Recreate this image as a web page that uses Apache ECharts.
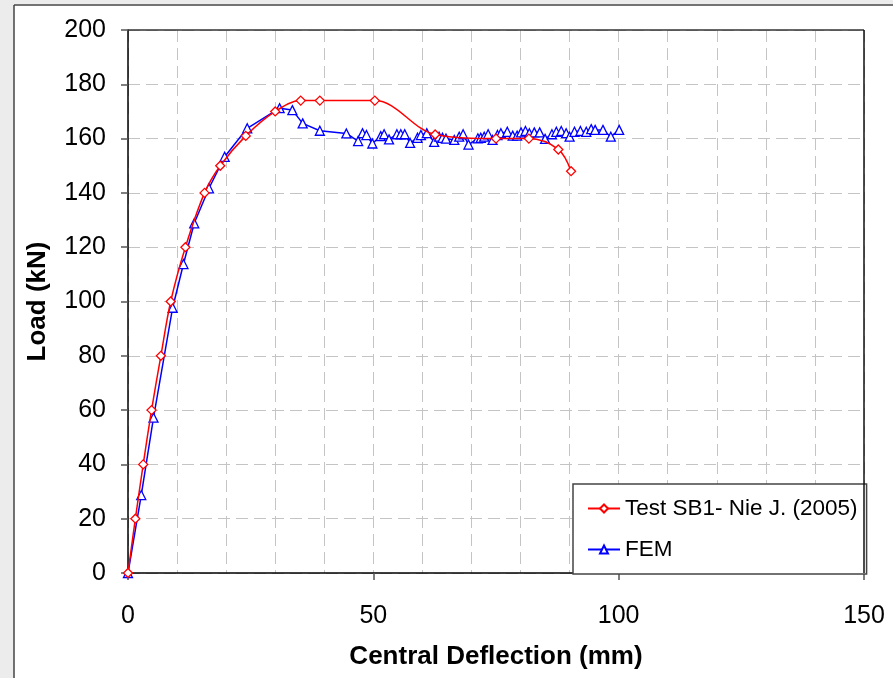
<!DOCTYPE html>
<html><head><meta charset="utf-8">
<script src="https://cdn.jsdelivr.net/npm/echarts@6/dist/echarts.min.js"></script>
<style>html,body{margin:0;padding:0;background:#fff}#c{width:893px;height:678px}</style>
</head><body><div id="c"></div>
<script>
const testName = 'Test SB1- Nie J. (2005)';
const femName = 'FEM';
const testX = [0,1.5,3.1,4.8,6.7,8.7,11.7,15.6,18.8,24,30,35.2,39.1,50.3,62.6,75,81.7,87.7,90.3];
const testY = [0,20,40,60,80,100,120,140,150,161,170,174,174,174,161.5,160,160,156,148];
const femX = [0,2.7,5.2,9.1,11.3,13.5,16.5,19.7,24.3,30.9,33.5,35.6,39.1,44.5,46.9,47.8,48.6,49.8,51.5,52.2,53.2,54.8,55.6,56.4,57.5,59,59.7,60.9,62.4,63.4,64.1,64.8,66.5,67.5,68.3,69.4,71.3,71.9,72.6,73.4,74.3,75.3,76,77.3,78.4,79.3,80.1,81,81.8,82.8,83.9,85,86.4,87.3,88.3,89.3,90,91,92.2,93.4,94.4,95.2,96.8,98.4,100.1];
const femY = [0,28.7,57.2,97.7,113.8,128.8,141.7,153.3,163.8,171.2,170.5,165.6,162.9,161.9,159.1,162,161.3,158.2,160.9,161.6,159.7,161.6,161.6,161.6,158.4,160.3,161.3,162,158.8,160.7,160.3,160,159.5,160.7,161.6,157.8,160.1,160.3,160.7,161.6,159.5,161.3,162,162.5,161.1,161.1,162.3,162.8,162,162.3,162.3,159.9,161.6,162.5,162.8,162,160.7,162.5,162.8,162.5,163.5,163.2,163.2,160.7,163.2];
const xTicks = [0,50,100,150];
const yTicks = [0,20,40,60,80,100,120,140,160,180,200];

const zip = (a,b)=>a.map((v,i)=>[v,b[i]]);
const font = 'Liberation Sans, Arial, sans-serif';
const dash = {color:'#c4c4c4', type:[12,6], width:1};
const chart = echarts.init(document.getElementById('c'), null, {renderer:'canvas'});
chart.setOption({
  animation:false,
  backgroundColor:'#fff',
  graphic:[
    {type:'rect', shape:{x:0,y:0,width:14,height:678}, style:{fill:'#ececec'}, z:-10},
    {type:'rect', shape:{x:0,y:0,width:893,height:4}, style:{fill:'#ececec'}, z:-10},
    {type:'line', shape:{x1:14,y1:5,x2:893,y2:5}, style:{stroke:'#444',lineWidth:1.5}},
    {type:'line', shape:{x1:14,y1:5,x2:14,y2:678}, style:{stroke:'#444',lineWidth:1.5}},
    {type:'line', shape:{x1:128,y1:30,x2:864,y2:30}, style:{stroke:'#333',lineWidth:1.5}, z:50},
    {type:'line', shape:{x1:864,y1:30,x2:864,y2:573}, style:{stroke:'#111',lineWidth:1.5}, z:50}
  ],
  grid:{left:128,right:29,top:30,bottom:105,outerBoundsMode:'none',containLabel:false},
  xAxis:{type:'value',min:0,max:150,interval:50,
    name:'Central Deflection (mm)',nameLocation:'middle',nameGap:71,
    nameTextStyle:{fontFamily:font,fontSize:26,fontWeight:'bold',color:'#000'},
    axisLine:{lineStyle:{color:'#000',width:1.5}},
    axisTick:{show:true,length:7,inside:false,lineStyle:{color:'#555',width:1.5}},
    axisLabel:{fontFamily:font,fontSize:25,color:'#000',margin:31},
    splitLine:{show:true,lineStyle:dash},
    minorTick:{show:false,splitNumber:5},
    minorSplitLine:{show:true,lineStyle:dash}
  },
  yAxis:{type:'value',min:0,max:200,interval:20,
    name:'Load (kN)',nameLocation:'middle',nameGap:77,nameRotate:90,
    nameTextStyle:{fontFamily:font,fontSize:26,fontWeight:'bold',color:'#000'},
    axisLine:{show:true,lineStyle:{color:'#000',width:1.5}},
    axisTick:{show:true,length:7,lineStyle:{color:'#555',width:1.5}},
    axisLabel:{fontFamily:font,fontSize:25,color:'#000',margin:22,
      formatter:v=>yTicks.includes(v)?String(v):''},
    splitLine:{show:true,lineStyle:dash}
  },
  legend:{orient:'vertical',left:573,top:484,
    backgroundColor:'#fff',borderColor:'#444',borderWidth:1.5,
    padding:[13,9,13,14],itemGap:18,itemWidth:32,itemHeight:10,
    textStyle:{fontFamily:font,fontSize:22.5,color:'#000'},
    data:[testName,femName]},
  series:[
    {name:testName,type:'line',data:zip(testX,testY),smooth:0.35,
      symbol:'diamond',symbolSize:9,
      itemStyle:{color:'#fff',borderColor:'#ff0000',borderWidth:1.3},
      lineStyle:{color:'#ff0000',width:1.5},z:3},
    {name:femName,type:'line',data:zip(femX,femY),
      symbol:'triangle',symbolSize:9,
      itemStyle:{color:'#fff',borderColor:'#0000ff',borderWidth:1.3},
      lineStyle:{color:'#0000ff',width:1.5},z:2}
  ]
});
</script></body></html>
